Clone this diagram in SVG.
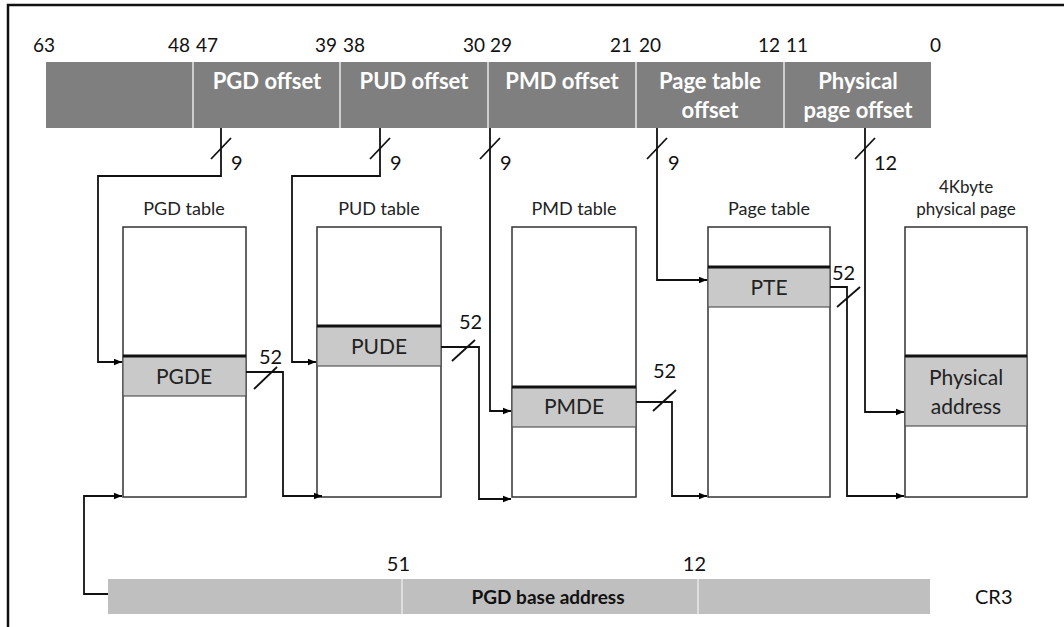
<svg xmlns="http://www.w3.org/2000/svg" width="1064" height="627" viewBox="0 0 1064 627">
<defs>
<marker id="ah" viewBox="0 0 10 10" refX="10" refY="5" markerWidth="8" markerHeight="8" markerUnits="userSpaceOnUse" orient="auto"><path d="M0,1 L10,5 L0,9 Z" fill="#000"/></marker>
<style>
text{font-family:Lato,"Liberation Sans",sans-serif;fill:#111}
.num{font-size:19px}
.n2{font-size:20px}
.bl{font-size:22px;font-weight:bold;fill:#fff;text-anchor:middle}
.tl{font-size:18px;text-anchor:middle;fill:#222}
.tl2{font-size:17px;text-anchor:middle;fill:#222}
.el{font-size:21px;text-anchor:middle;fill:#222}
.box{fill:#fff;stroke:#333;stroke-width:1.5}
.row{fill:#c9c9c9;stroke:#555;stroke-width:1.2}
.rtop{stroke:#111;stroke-width:3}
.w{fill:none;stroke:#111;stroke-width:1.8}
.tk{stroke:#111;stroke-width:1.8}
.sep{stroke:#e8e8e8;stroke-width:1.5}
</style>
</defs>
<rect width="1064" height="627" fill="#fff"/>
<path d="M8,627 V5 H1064" fill="none" stroke="#111" stroke-width="2.5"/>

<g id="vaddr">
<rect x="46" y="62" width="885" height="66" fill="#7f7f7f"/>
<line class="sep" x1="193" y1="62" x2="193" y2="128"/>
<line class="sep" x1="340" y1="62" x2="340" y2="128"/>
<line class="sep" x1="488" y1="62" x2="488" y2="128"/>
<line class="sep" x1="636" y1="62" x2="636" y2="128"/>
<line class="sep" x1="784" y1="62" x2="784" y2="128"/>
<text class="bl" x="267" y="89">PGD offset</text>
<text class="bl" x="414" y="89">PUD offset</text>
<text class="bl" x="562" y="89">PMD offset</text>
<text class="bl" x="710" y="89">Page table</text>
<text class="bl" x="710" y="118">offset</text>
<text class="bl" x="858" y="89">Physical</text>
<text class="bl" x="858" y="118">page offset</text>
<text class="num" x="33" y="52">63</text>
<text class="num" x="190" y="52" text-anchor="end">48</text>
<text class="num" x="196" y="52">47</text>
<text class="num" x="337" y="52" text-anchor="end">39</text>
<text class="num" x="343" y="52">38</text>
<text class="num" x="485" y="52" text-anchor="end">30</text>
<text class="num" x="490" y="52">29</text>
<text class="num" x="632" y="52" text-anchor="end">21</text>
<text class="num" x="639" y="52">20</text>
<text class="num" x="780" y="52" text-anchor="end">12</text>
<text class="num" x="786" y="52">11</text>
<text class="num" x="930" y="52">0</text>
</g>

<g id="pgd-table">
<text class="tl" x="184" y="215">PGD table</text>
<rect class="box" x="123" y="227" width="123" height="270"/>
<rect class="row" x="123" y="356" width="123" height="40"/>
<line class="rtop" x1="123" y1="356" x2="246" y2="356"/>
<text class="el" x="184" y="384">PGDE</text>
</g>

<g id="pud-table">
<text class="tl" x="379" y="215">PUD table</text>
<rect class="box" x="317" y="227" width="124" height="270"/>
<rect class="row" x="317" y="326" width="124" height="40"/>
<line class="rtop" x1="317" y1="326" x2="441" y2="326"/>
<text class="el" x="379" y="354">PUDE</text>
</g>

<g id="pmd-table">
<text class="tl" x="574" y="215">PMD table</text>
<rect class="box" x="512" y="227" width="124" height="270"/>
<rect class="row" x="512" y="387" width="124" height="40"/>
<line class="rtop" x1="512" y1="387" x2="636" y2="387"/>
<text class="el" x="574" y="414">PMDE</text>
</g>

<g id="page-table">
<text class="tl" x="769" y="215">Page table</text>
<rect class="box" x="708" y="227" width="122" height="270"/>
<rect class="row" x="708" y="267" width="122" height="40"/>
<line class="rtop" x1="708" y1="267" x2="830" y2="267"/>
<text class="el" x="769" y="295">PTE</text>
</g>

<g id="phys-page">
<text class="tl2" x="966" y="193">4Kbyte</text>
<text class="tl2" x="966" y="215">physical page</text>
<rect class="box" x="905" y="227" width="122" height="270"/>
<rect class="row" x="905" y="356" width="122" height="70"/>
<line class="rtop" x1="905" y1="356" x2="1027" y2="356"/>
<text class="el" x="966" y="385">Physical</text>
<text class="el" x="966" y="414">address</text>
</g>

<g id="cr3">
<rect x="108" y="579" width="822" height="35" fill="#bfbfbf"/>
<line class="sep" x1="402" y1="579" x2="402" y2="614"/>
<line class="sep" x1="698" y1="579" x2="698" y2="614"/>
<text x="548" y="604" text-anchor="middle" style="font-size:19px;font-weight:bold">PGD base address</text>
<text class="n2" x="410" y="571" text-anchor="end">51</text>
<text class="n2" x="706" y="571" text-anchor="end">12</text>
<text class="n2" x="975" y="604">CR3</text>
</g>

<g id="connectors">
<path class="w" d="M221,128 V176 H98 V362 H122" marker-end="url(#ah)"/>
<path class="w" d="M380,128 V176 H292 V362 H316" marker-end="url(#ah)"/>
<path class="w" d="M490,128 V411 H511" marker-end="url(#ah)"/>
<path class="w" d="M657,128 V280 H707" marker-end="url(#ah)"/>
<path class="w" d="M865,128 V412 H904" marker-end="url(#ah)"/>
<path class="w" d="M246,372 H283 V496 H322" marker-end="url(#ah)"/>
<path class="w" d="M441,347 H479 V499 H511" marker-end="url(#ah)"/>
<path class="w" d="M636,402 H672 V496 H707" marker-end="url(#ah)"/>
<path class="w" d="M830,287 H847 V496 H904" marker-end="url(#ah)"/>
<path class="w" d="M108,594 H84 V496 H122" marker-end="url(#ah)"/>
<line class="tk" x1="211" y1="159" x2="231" y2="138"/>
<line class="tk" x1="370" y1="159" x2="390" y2="138"/>
<line class="tk" x1="480" y1="159" x2="500" y2="138"/>
<line class="tk" x1="647" y1="159" x2="667" y2="138"/>
<line class="tk" x1="855" y1="159" x2="875" y2="138"/>
<line class="tk" x1="254" y1="389" x2="277" y2="367"/>
<line class="tk" x1="452" y1="361" x2="475" y2="340"/>
<line class="tk" x1="653" y1="411" x2="676" y2="390"/>
<line class="tk" x1="837" y1="307" x2="860" y2="287"/>
<text class="n2" x="231" y="170">9</text>
<text class="n2" x="390" y="170">9</text>
<text class="n2" x="500" y="170">9</text>
<text class="n2" x="668" y="170">9</text>
<text class="n2" x="874" y="170">12</text>
<text class="n2" x="259" y="364">52</text>
<text class="n2" x="459" y="329">52</text>
<text class="n2" x="653" y="378">52</text>
<text class="n2" x="832" y="280">52</text>
</g>
</svg>
